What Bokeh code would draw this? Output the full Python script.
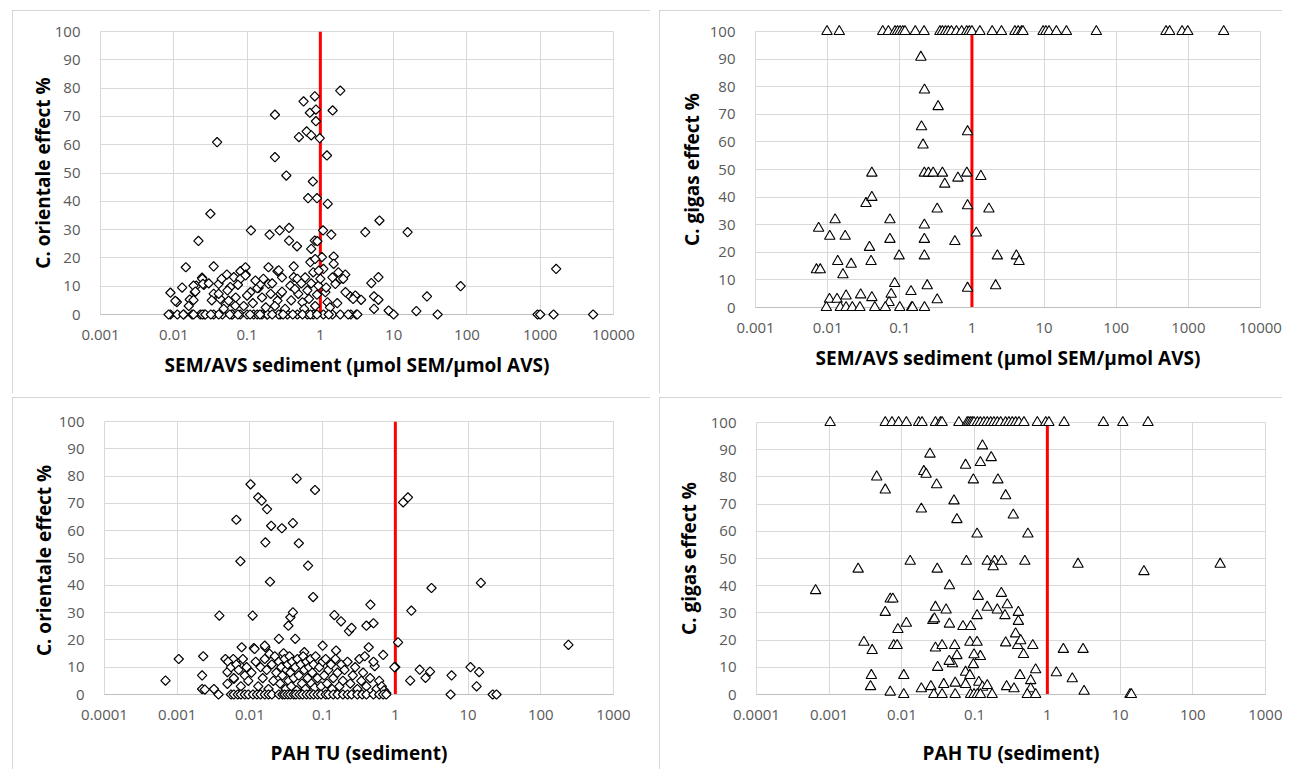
import math
from bokeh.plotting import figure
from bokeh.layouts import column, row
from bokeh.models import Range1d, FixedTicker, CustomJSTickFormatter
from bokeh.embed import file_html
from bokeh.resources import INLINE

# ---------------- data ----------------
threshold = 1

sem_ticks = [0.001, 0.01, 0.1, 1, 10, 100, 1000, 10000]
pah_ticks = [0.0001, 0.001, 0.01, 0.1, 1, 10, 100, 1000]
effect_ticks = [0, 10, 20, 30, 40, 50, 60, 70, 80, 90, 100]

# Panel A: SEM/AVS vs C. orientale effect %
sem_orientale_x = [
    0.009, 0.011, 0.009, 0.0137, 0.0146, 0.0165, 0.0178, 0.0193, 0.0217, 0.0203,
    0.0243, 0.0257, 0.023, 0.026, 0.0316, 0.035, 0.039, 0.035, 0.035, 0.041,
    0.043, 0.045, 0.053, 0.051, 0.059, 0.062, 0.066, 0.081, 0.095, 0.096,
    0.081, 0.111, 0.113, 0.123, 0.144, 0.16, 0.187, 0.196, 0.196, 0.203,
    0.24, 0.24, 0.26, 0.278, 0.285, 0.285, 0.343, 0.374, 0.374, 0.433,
    0.48, 0.433, 0.51, 0.59, 0.65, 0.68, 0.72, 0.75, 0.79, 0.84,
    0.87, 0.87, 0.9, 0.98, 0.75, 0.84, 1.09, 1.87, 1.47, 1.23,
    1.26, 4.1, 6.4, 15.5, 1.41, 1.05, 1.52, 1.52, 2.19, 1.87,
    1.6, 4.96, 6.2, 5.4, 6.2, 5.4, 3.6, 2.56, 3.0, 2.2,
    8.55, 10, 20.4, 28.5, 39.8, 82, 920, 1000, 1520, 1650,
    5270, 2.6, 3.1, 0.0085, 0.0112, 0.0135, 0.0186, 0.0245, 0.027, 0.046,
    0.063, 0.1, 0.138, 0.19, 0.27, 0.355, 0.485, 0.665, 0.8, 1.1,
    1.46, 1.87, 2.4, 3.2, 0.0105, 0.0186, 0.0245, 0.025, 0.0197, 0.0186,
    0.041, 0.054, 0.056, 0.069, 0.081, 0.095, 0.1, 0.138, 0.152, 0.167,
    0.21, 0.27, 0.26, 0.30, 0.39, 0.485, 0.5, 0.57, 0.62, 0.665,
    0.73, 0.80, 0.85, 0.91, 0.94, 1.0, 1.1, 1.17, 1.25, 1.46,
    1.76, 2.05, 2.8, 0.013, 0.016, 0.03, 0.033, 0.048, 0.07, 0.075,
    0.09, 0.12, 0.13, 0.16, 0.18, 0.22, 0.24, 0.3, 0.33, 0.4,
    0.45, 0.55, 0.6, 0.7, 0.75, 0.85, 0.9, 0.95, 1.2, 1.35,
    1.7, 0.11, 0.15, 0.22, 0.31, 0.42, 0.57, 0.73, 0.9, 1.3,
    0.058, 0.075, 0.041, 0.032,
]
sem_orientale_y = [
    7.7, 4.4, 0, 0, 16.7, 5.3, 0, 7.9, 26, 10.2,
    13, 10.5, 0, 0, 35.6, 17, 60.9, 7.3, 0, 10.8,
    5.5, 12.6, 14.1, 3.5, 9.7, 0, 13.2, 15.3, 16.7, 14.1,
    0, 7.9, 29.7, 0, 9.4, 0, 0, 16.7, 10.8, 28.2,
    70.6, 55.6, 15.3, 29.7, 7.3, 0, 49.1, 30.6, 26.1, 17,
    24.1, 13.2, 62.7, 75.3, 64.7, 41.1, 71.3, 63.3, 47, 77.1,
    72.4, 68.3, 41.1, 62.3, 23.2, 26.1, 29.7, 79.1, 72.1, 56.2,
    39.1, 29.1, 33.2, 29.1, 28.2, 20.3, 20.5, 17.9, 14.1, 12.6,
    10.8, 11.1, 13.2, 6.4, 5.2, 2, 5.2, 6.4, 6.7, 7.9,
    1.4, 0, 1.2, 6.4, 0, 10, 0, 0, 0, 16.1,
    0, 0, 0, 0, 0, 0, 0, 0, 0, 0,
    0, 0, 0, 0, 0, 0, 0, 0, 0, 0,
    0, 0, 0, 0, 4.8, 10.2, 12.6, 10.8, 8.1, 5.1,
    7.3, 8.5, 4.9, 3.1, 12.6, 13.8, 6.7, 9.3, 10.8, 12.6,
    7.3, 15.6, 4.9, 13.1, 10.2, 12.6, 7.3, 4.3, 13.1, 8.5,
    18.5, 14.9, 19.6, 25.9, 10.2, 12.6, 16.1, 7.9, 4.3, 13.1,
    14.9, 12.6, 5.5, 9.5, 3, 11, 5, 2, 6, 10.5,
    3, 4, 12, 6, 2.5, 11, 3, 8, 2, 5,
    9, 11, 2, 5.5, 11, 3, 7, 15.5, 9.5, 2.5,
    4, 0, 0, 0, 0, 0, 0, 0, 0, 0,
    0, 0, 0, 0,
]

# Panel B: SEM/AVS vs C. gigas effect %
sem_gigas_x = [
    0.0098, 0.0145, 0.058, 0.0695, 0.086, 0.093, 0.101, 0.11, 0.118, 0.164,
    0.217, 0.36, 0.39, 0.43, 0.47, 0.52, 0.61, 0.72, 0.845, 0.92,
    1.0, 1.29, 1.91, 2.57, 3.94, 4.37, 4.87, 5.1, 9.7, 10.6,
    11.7, 14.8, 20.4, 53, 490, 550, 818, 980, 3090,
    0.0075, 0.0107, 0.0127, 0.0175, 0.0070, 0.0079, 0.0138, 0.0163, 0.0212, 0.0287,
    0.034, 0.041, 0.041, 0.038, 0.040, 0.041, 0.073, 0.073, 0.098, 0.085,
    0.076, 0.071, 0.143, 0.219, 0.219, 0.219, 0.24, 0.196, 0.22, 0.34,
    0.20, 0.21, 0.219, 0.25, 0.29, 0.39, 0.42, 0.33, 0.33, 0.64,
    0.58, 0.85, 0.87, 0.87, 0.87, 1.15, 1.33, 1.72, 2.25, 4.13,
    4.5, 2.13, 0.0106, 0.0135, 0.018,
    0.0096, 0.015, 0.018, 0.022, 0.028, 0.045, 0.063, 0.1, 0.146, 0.15,
    0.22,
]
sem_gigas_y = [
    100, 100, 100, 100, 100, 100, 100, 100, 100, 100,
    100, 100, 100, 100, 100, 100, 100, 100, 100, 100,
    100, 100, 100, 100, 100, 100, 100, 100, 100, 100,
    100, 100, 100, 100, 100, 100, 100, 100, 100,
    28.7, 25.8, 31.8, 25.8, 13.7, 13.7, 16.7, 11.9, 15.7, 4.6,
    37.7, 39.9, 48.7, 21.8, 16.7, 3.6, 31.8, 24.7, 18.7, 8.7,
    4.8, 1.8, 5.8, 29.9, 24.7, 18.7, 7.9, 90.7, 78.8, 72.8,
    65.5, 58.9, 48.7, 48.7, 48.7, 48.7, 44.7, 35.7, 2.8, 46.9,
    23.9, 48.7, 63.7, 36.9, 7, 27, 47.5, 35.7, 18.7, 18.7,
    16.7, 7.9, 3, 3, 4.2,
    0, 0, 0, 0, 0, 0, 0, 0, 0, 0,
    0,
]

# Panel C: PAH TU vs C. orientale effect %
pah_orientale_x = [
    0.00069, 0.00105, 0.00228, 0.0022, 0.0022, 0.0024, 0.0032, 0.0037, 0.0038, 0.0046,
    0.0049, 0.0049, 0.0059, 0.0065, 0.006, 0.0074, 0.0077, 0.0073, 0.0102, 0.0109,
    0.0113, 0.013, 0.0145, 0.0172, 0.0163, 0.0163, 0.0189, 0.0196, 0.025, 0.0275,
    0.0338, 0.036, 0.039, 0.039, 0.042, 0.044, 0.047, 0.063, 0.074, 0.0785,
    1.28, 1.49, 3.14, 15, 1.66, 0.454, 0.145, 0.179, 0.23, 0.25,
    0.4, 0.5, 1.09, 1.0, 0.43, 0.68, 0.52, 1.6, 2.16, 2.6,
    3.0, 5.93, 5.75, 10.8, 14.2, 13.1, 21.8, 24.6, 240, 0.016,
    0.0116, 0.0186, 0.029, 0.056, 0.1, 0.153, 0.97,
    0.005, 0.0055, 0.006, 0.0065, 0.007, 0.0075, 0.008, 0.0085, 0.009, 0.0095,
    0.0105, 0.012, 0.013, 0.014, 0.015, 0.016, 0.017, 0.018, 0.02, 0.021,
    0.022, 0.023, 0.025, 0.026, 0.027, 0.028, 0.03, 0.031, 0.032, 0.033,
    0.034, 0.035, 0.036, 0.037, 0.038, 0.04, 0.042, 0.044, 0.045, 0.047,
    0.05, 0.052, 0.054, 0.056, 0.058, 0.06, 0.062, 0.065, 0.068, 0.07,
    0.072, 0.075, 0.078, 0.08, 0.085, 0.09, 0.095, 0.1, 0.105, 0.11,
    0.115, 0.12, 0.13, 0.135, 0.14, 0.15, 0.16, 0.17, 0.18, 0.19,
    0.2, 0.22, 0.24, 0.26, 0.28, 0.3, 0.32, 0.34, 0.36, 0.38,
    0.4, 0.45, 0.5, 0.55, 0.6, 0.65, 0.7, 0.75,
    0.0055, 0.006, 0.0068, 0.0075, 0.0085, 0.0095, 0.011, 0.0125, 0.014, 0.016,
    0.018, 0.02, 0.025, 0.028, 0.03, 0.033, 0.036, 0.04, 0.043, 0.048,
    0.053, 0.06, 0.067, 0.075, 0.085, 0.095, 0.11, 0.12, 0.14, 0.16,
    0.19, 0.22, 0.25, 0.3, 0.35, 0.4, 0.5, 0.6, 0.68, 0.75,
]
pah_orientale_y = [
    5.1, 13, 14, 7, 2, 1.8, 2, 0, 28.9, 13,
    8.2, 3.9, 13, 64, 5.7, 48.8, 17.3, 10.6, 77, 28.9,
    17, 72.2, 71, 67.9, 55.7, 17.3, 41.3, 61.8, 20.4, 60.9,
    25.2, 28.3, 30.1, 62.8, 20.4, 79.1, 55.4, 47.2, 35.7, 74.9,
    70.4, 72.2, 39, 40.9, 30.7, 32.9, 29.1, 26.8, 23.2, 24.4,
    25.2, 26.1, 19.1, 10, 17.3, 14.5, 10.4, 5.1, 9.1, 6.1,
    8.4, 7, 0, 10, 8.2, 3, 0, 0, 18.2, 17.9,
    16.7, 14.9, 15.1, 15.5, 17.9, 16.1, 10,
    12, 10, 6, 11, 9, 3, 13, 7, 10, 5,
    8, 12, 3, 10, 6, 13, 9, 2, 11, 5,
    14, 8, 12, 4, 10, 7, 13, 2, 9, 11,
    5, 14, 8, 3, 12, 6, 10, 1.5, 13, 7,
    11, 4, 14, 9, 2, 12, 6, 10, 13, 4,
    8, 11, 2.5, 14, 6, 10, 3, 12, 7, 13,
    4, 9, 11, 2, 6, 13, 8, 3, 11, 5,
    9, 12, 4, 7, 10, 2, 13, 5, 8, 14,
    3, 6, 12, 2, 5, 3, 1.5, 0.5,
    0, 0, 0, 0, 0, 0, 0, 0, 0, 0,
    0, 0, 0, 0, 0, 0, 0, 0, 0, 0,
    0, 0, 0, 0, 0, 0, 0, 0, 0, 0,
    0, 0, 0, 0, 0, 0, 0, 0, 0, 0,
]

# Panel D: PAH TU vs C. gigas effect %
pah_gigas_x = [
    0.00103, 0.0059, 0.0073, 0.009, 0.0115, 0.017, 0.0189, 0.0289, 0.0339, 0.0357,
    0.0607, 0.079, 0.083, 0.088, 0.093, 0.098, 0.109, 0.12, 0.134, 0.149,
    0.166, 0.184, 0.205, 0.228, 0.266, 0.296, 0.329, 0.366, 0.407, 0.477,
    0.728, 0.95, 1.05, 1.7, 5.9, 10.9, 24.2,
    0.128, 0.0243, 0.169, 0.075, 0.12, 0.02, 0.0215, 0.0045, 0.096, 0.209,
    0.03, 0.0059, 0.267, 0.052, 0.0185, 0.34, 0.057, 0.108, 0.54, 0.013,
    0.0025, 0.0306, 0.077, 0.149, 0.188, 0.235, 0.18, 0.49, 0.00065, 0.045,
    0.0069, 0.0075, 0.112, 0.233, 0.0059, 0.0289, 0.0405, 0.149, 0.205, 0.281,
    0.108, 0.261, 0.399, 0.399, 0.0266, 0.028, 0.0088, 0.0115, 0.045, 0.069,
    0.088, 0.366, 0.003, 0.0039, 0.0077, 0.0086, 0.0289, 0.0357, 0.0532, 0.086,
    0.108, 0.12, 0.057, 0.0496, 0.0447, 0.098, 0.267, 0.39, 0.47, 0.63,
    0.43, 0.031, 0.075, 0.096, 0.086, 0.0038, 0.0037, 0.0106, 0.0069, 0.0185,
    0.025, 0.0376, 0.054, 0.075, 0.114, 0.128, 0.149, 0.275, 0.42, 0.59,
    0.59, 0.69, 0.348,
    0.0106, 0.0275, 0.0357, 0.054, 0.088, 0.098, 0.109, 0.12, 0.174, 0.53,
    0.69,
    1.66, 3.1, 1.33, 2.2, 3.2, 13.7, 14.3, 2.64, 21.3, 238,
]
pah_gigas_y = [
    100, 100, 100, 100, 100, 100, 100, 100, 100, 100,
    100, 100, 100, 100, 100, 100, 100, 100, 100, 100,
    100, 100, 100, 100, 100, 100, 100, 100, 100, 100,
    100, 100, 100, 100, 100, 100, 100,
    91.4, 88.4, 87.1, 84.3, 85.3, 82, 81, 80, 78.9, 78.9,
    77.1, 75.2, 73.1, 71.2, 68.2, 66, 64.3, 59, 59, 49,
    46.1, 46.1, 49, 49, 49, 49, 47, 49, 38.2, 40,
    35.1, 35.1, 36.1, 37.2, 30.2, 32.1, 31.1, 32.1, 31.1, 33,
    29, 29, 30.2, 26.9, 27.2, 27.8, 23.9, 26.2, 25.9, 25,
    25, 22.3, 19.2, 16.2, 18, 18, 17.1, 18, 18, 19.2,
    19.2, 14, 14.3, 11.3, 12.2, 14.6, 19, 18, 14.7, 18,
    19.8, 10, 8.2, 11, 7, 7, 2.9, 7, 0.9, 2.1,
    2.9, 3.7, 4.2, 3.7, 4.5, 2.7, 3.3, 2.9, 7, 5.1,
    2.1, 9.1, 2.1,
    0, 0, 0, 0, 0, 0, 0, 0, 0, 0,
    0,
    16.6, 16.6, 8, 5.8, 1.2, 0, 0, 47.9, 45.2, 47.9,
]

FONT = "Open Sans"
GRID = "#d9d9d9"


def make_panel(xs, ys, xticks, ylabel, xlabel, marker, width, height,
               borders, margin, xlab_standoff, ylab_standoff):
    left, right, top, bottom = borders
    p = figure(width=width, height=height, x_axis_type="log",
               x_range=Range1d(xticks[0], xticks[-1]), y_range=Range1d(0, 100),
               output_backend="svg", toolbar_location=None,
               min_border_left=left, min_border_right=right,
               min_border_top=top, min_border_bottom=bottom,
               background_fill_color="white", border_fill_color="white",
               outline_line_color=GRID, outline_line_width=1)
    try:
        p.frame_align = False
    except Exception:
        pass
    p.margin = margin
    p.styles = {"outline": "1px solid #c8c8c8", "outline-offset": "-1px"}

    p.xaxis.ticker = FixedTicker(ticks=xticks, minor_ticks=[])
    p.yaxis.ticker = FixedTicker(ticks=effect_ticks, minor_ticks=[])
    p.xaxis.formatter = CustomJSTickFormatter(code="return tick.toString();")
    for ax in (p.xaxis[0], p.yaxis[0]):
        ax.major_tick_line_color = None
        ax.minor_tick_line_color = None
        ax.major_label_text_font = FONT
        ax.major_label_text_font_size = "15px"
        ax.major_label_text_color = "#595959"
        ax.axis_label_text_font = FONT
        ax.axis_label_text_font_size = "19px"
        ax.axis_label_text_font_style = "bold"
        ax.axis_label_text_color = "black"
    p.xaxis.axis_label = xlabel
    p.yaxis.axis_label = ylabel
    p.xaxis.axis_line_color = "#bfbfbf"
    p.yaxis.axis_line_color = None
    p.xaxis.major_label_standoff = 9
    p.xaxis.axis_label_standoff = xlab_standoff
    p.yaxis.major_label_standoff = 14
    p.yaxis.axis_label_standoff = ylab_standoff

    p.xgrid.grid_line_color = GRID
    p.ygrid.grid_line_color = GRID

    p.segment(x0=[threshold], y0=[0], x1=[threshold], y1=[100],
              line_color="#ff0000", line_width=3)

    if marker == "diamond":
        r = p.scatter(xs, ys, marker="square", angle=math.pi / 4, size=6.6,
                      fill_color="white", line_color="black", line_width=1.2)
    else:
        r = p.scatter(xs, ys, marker="triangle", size=10.5,
                      fill_color="white", line_color="black", line_width=1.1)
    r.level = "overlay"
    return p


p1 = make_panel(sem_orientale_x, sem_orientale_y, sem_ticks,
                "C. orientale effect %", "SEM/AVS sediment (\u00b5mol SEM/\u00b5mol AVS)",
                "diamond", 638, 383, (88, 37, 21, 79), (10, 0, 0, 12), 9, -4)
p2 = make_panel(sem_gigas_x, sem_gigas_y, sem_ticks,
                "C. gigas effect %", "SEM/AVS sediment (\u00b5mol SEM/\u00b5mol AVS)",
                "triangle", 623, 383, (96, 22, 21, 86), (10, 0, 0, 9), 9, 2)
p3 = make_panel(pah_orientale_x, pah_orientale_y, pah_ticks,
                "C. orientale  effect %", "PAH TU (sediment)",
                "diamond", 638, 372, (92, 37, 24, 75), (4, 0, 0, 12), 17, -1)
p4 = make_panel(pah_gigas_x, pah_gigas_y, pah_ticks,
                "C. gigas effect %", "PAH TU (sediment)",
                "triangle", 623, 372, (97, 17, 25, 75), (4, 0, 0, 9), 17, 6)

layout = column(row(p1, p2), row(p3, p4))
open("out.html", "w").write(file_html(layout, INLINE))
